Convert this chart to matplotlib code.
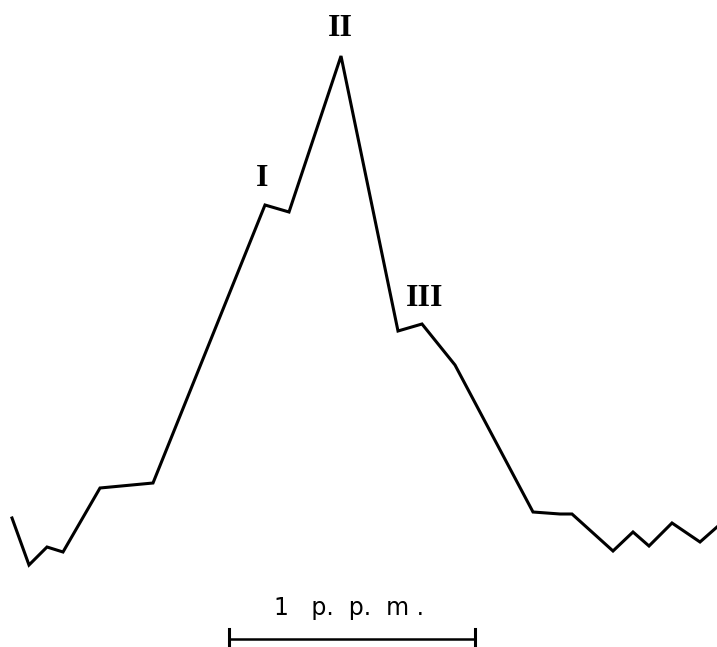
import matplotlib.pyplot as plt

# spectrum trace (x to the right, y downwards in px)
trace_x = [12, 29, 47, 63, 100, 153, 265, 289, 341, 398, 422, 455, 533, 560,
           572, 613, 633, 649, 672, 700, 717]
trace_y = [518, 565, 547, 552, 488, 483, 205, 212, 56, 331, 324, 365, 512, 514,
           514, 551, 532, 546, 523, 542, 527]

peak_labels = ['I', 'II', 'III']
peak_label_x = [262, 340, 425]
peak_label_y = [179, 28, 299]

scale_x = [229, 475]
scale_y = 639

fig = plt.figure(figsize=(7.17, 6.47), dpi=100)
ax = fig.add_axes([0, 0, 1, 1])
ax.set_xlim(0, 717)
ax.set_ylim(647, 0)
ax.axis('off')

ax.plot(trace_x, trace_y, color='black', lw=2.2, solid_joinstyle='miter')

for lab, lx, ly in zip(peak_labels, peak_label_x, peak_label_y):
    ax.text(lx, ly, lab, ha='center', va='center', fontsize=23,
            family='Liberation Serif', fontweight='bold', color='black')

# scale bar
ax.plot(scale_x, [scale_y, scale_y], color='black', lw=1.8)
for sx in scale_x:
    ax.plot([sx, sx], [scale_y - 10, scale_y + 10], color='black', lw=2.2)
ax.text(349, 608, '1   p.  p.  m .', ha='center', va='center',
        fontsize=17, color='black')

fig.savefig('out.png', dpi=100)
